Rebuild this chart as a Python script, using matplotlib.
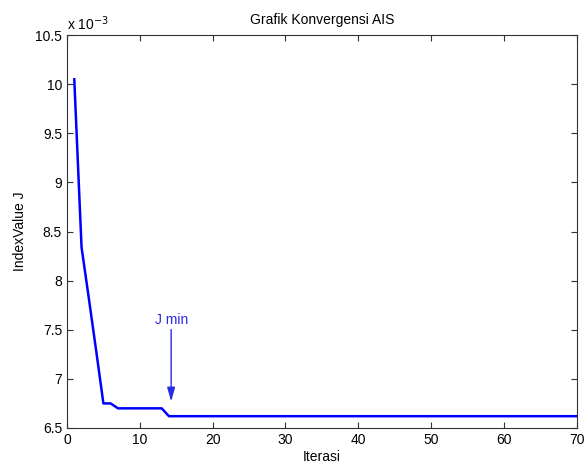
import matplotlib
matplotlib.use("Agg")
import matplotlib.pyplot as plt
from matplotlib.ticker import FuncFormatter

plt.rcParams['font.family'] = ['Liberation Sans', 'DejaVu Sans']

# Convergence history of the AIS objective
iterations = list(range(1, 71))
index_head = [10.05e-3, 8.34e-3, 7.82e-3, 7.29e-3, 6.75e-3, 6.75e-3,
              6.70e-3, 6.70e-3, 6.70e-3, 6.70e-3, 6.70e-3, 6.70e-3, 6.70e-3]
j_min = 6.62e-3
index_value = index_head + [j_min] * (len(iterations) - len(index_head))

x_ticks = [0, 10, 20, 30, 40, 50, 60, 70]
y_ticks = [6.5e-3, 7e-3, 7.5e-3, 8e-3, 8.5e-3, 9e-3, 9.5e-3, 10e-3, 10.5e-3]

fig = plt.figure(figsize=(5.84, 4.68), dpi=100)
ax = fig.add_axes([0.1147, 0.0855, 0.873, 0.8395])

ax.plot(iterations, index_value, color='#0000ff', lw=1.8)

ax.set_xlim(0, 70)
ax.set_ylim(6.5e-3, 10.5e-3)
ax.set_xticks(x_ticks)
ax.set_yticks(y_ticks)
ax.yaxis.set_major_formatter(FuncFormatter(lambda v, p: f"{v / 1e-3:g}"))
ax.tick_params(direction='in', length=4, labelsize=10, top=True, right=True,
               color='#333333')
for s in ax.spines.values():
    s.set_color('#333333')
    s.set_linewidth(0.8)

ax.text(0.0, 1.005, r'x 10$^{-3}$', transform=ax.transAxes, fontsize=10,
        ha='left', va='bottom')

ax.set_title('Grafik Konvergensi AIS', fontsize=10, pad=8)
ax.set_xlabel('Iterasi', fontsize=10, labelpad=2)
ax.set_ylabel('IndexValue J', fontsize=10, labelpad=6)

ax.annotate('J min', xy=(14.3, 6.77e-3), xytext=(14.3, 7.53e-3),
            color='#2a2ae0', fontsize=10, ha='center', va='bottom',
            arrowprops=dict(arrowstyle='-|>,head_width=0.17,head_length=0.6',
                            color='#2a2ae0', lw=1.0,
                            mutation_scale=14, shrinkA=0, shrinkB=0))

fig.savefig('out.png', dpi=100)
